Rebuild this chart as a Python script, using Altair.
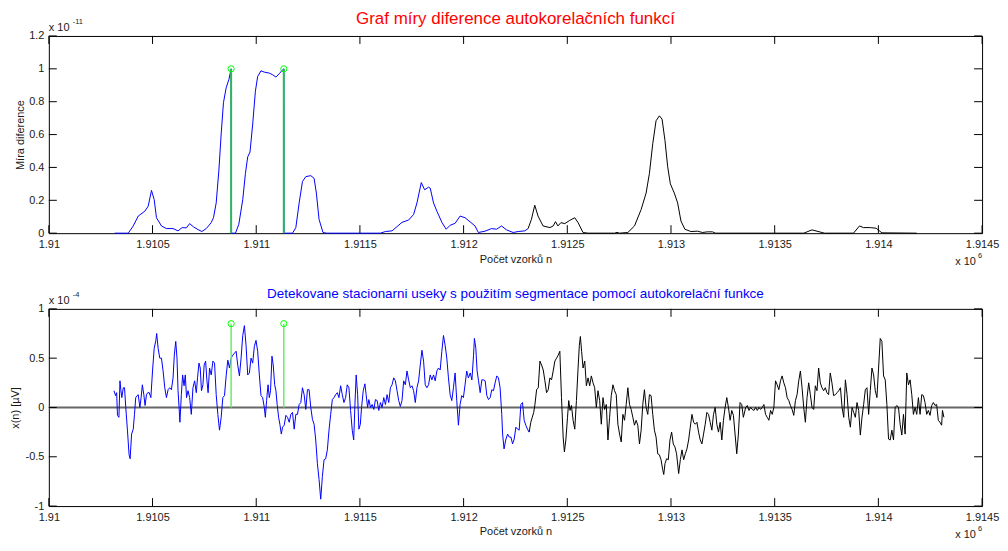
import altair as alt
import pandas as pd

FONT = "Liberation Sans"

# ---------------- data ----------------
X_TICKS = [1.91, 1.9105, 1.911, 1.9115, 1.912, 1.9125, 1.913, 1.9135, 1.914, 1.9145]
TOP_Y_TICKS = [0, 0.2, 0.4, 0.6, 0.8, 1, 1.2]
BOT_Y_TICKS = [-1, -0.5, 0, 0.5, 1]
SAMPLE_BASE = 1910000  # sample index offset; x axis is shown in units of 1e6

TOP_TITLE = "Graf míry diference autokorelačních funkcí"
BOT_TITLE = "Detekovane stacionarni useky s použitím segmentace pomocí autokorelační funkce"
X_TITLE = "Počet vzorků n"
TOP_Y_TITLE = "Míra diference"
BOT_Y_TITLE = "x(n) [µV]"
TOP_EXP = "-11"
BOT_EXP = "-4"
X_EXP = "6"

# (sample offset n, value) — top panel, detected (blue) part, in units of 1e-11
TOP_BLUE = [
    (317, 0), (383, 0), (407, 0.044), (431, 0.104), (463, 0.134), (479, 0.164),
    (495, 0.26), (508, 0.204), (519, 0.094), (543, 0.044), (567, 0.028), (599, 0.028),
    (623, 0.014), (643, 0.034), (663, 0.032), (679, 0.058), (698, 0.038), (719, 0.022),
    (738, 0.01), (759, 0.028), (783, 0.064), (794, 0.094), (807, 0.184), (820, 0.384),
    (831, 0.604), (842, 0.794), (855, 0.884), (868, 0.934), (879, 1.0), (880, 0),
    (900, 0), (916, 0.054), (935, 0.204), (948, 0.364), (959, 0.464), (970, 0.494),
    (983, 0.664), (996, 0.864), (1007, 0.954), (1023, 0.988), (1039, 0.98), (1063, 0.974),
    (1079, 0.964), (1095, 0.95), (1111, 0.97), (1127, 0.994), (1133, 1.0), (1134, 0),
    (1175, 0), (1191, 0.034), (1207, 0.184), (1223, 0.314), (1239, 0.344), (1263, 0.35),
    (1279, 0.334), (1290, 0.244), (1303, 0.084), (1322, 0.004), (1340, 0), (1599, 0),
    (1623, 0.01), (1655, 0.014), (1679, 0.04), (1703, 0.066), (1735, 0.08), (1759, 0.114),
    (1775, 0.184), (1796, 0.308), (1812, 0.264), (1831, 0.28), (1839, 0.274), (1855, 0.184),
    (1871, 0.134), (1896, 0.064), (1916, 0.024), (1935, 0.048), (1959, 0.06), (1983, 0.104),
    (2007, 0.094), (2036, 0.064), (2055, 0.044), (2071, 0.004), (2103, 0.012), (2135, 0.028),
    (2159, 0.024), (2183, 0.044), (2207, 0.02), (2239, 0.004), (2263, 0.01), (2295, 0.014),
    (2311, 0.028),
]
# top panel, remaining (black) part
TOP_BLACK = [
    (2311, 0.028), (2327, 0.084), (2343, 0.17), (2359, 0.104), (2383, 0.044), (2416, 0.034),
    (2432, 0.044), (2443, 0.07), (2455, 0.044), (2469, 0.064), (2488, 0.058), (2512, 0.078),
    (2536, 0.094), (2552, 0.064), (2576, 0.004), (2600, 0), (2728, 0), (2740, 0.005),
    (2752, 0), (2792, 0.004), (2824, 0.044), (2856, 0.144), (2880, 0.244), (2896, 0.364),
    (2912, 0.544), (2928, 0.684), (2944, 0.714), (2957, 0.694), (2971, 0.564), (2984, 0.404),
    (2997, 0.30), (3016, 0.244), (3032, 0.184), (3048, 0.074), (3067, 0.024), (3096, 0.01),
    (3128, 0.012), (3152, 0.004), (3175, 0.008), (3200, 0.008), (3215, 0), (3640, 0),
    (3680, 0.02), (3728, 0.004), (3740, 0), (3880, 0), (3909, 0.044), (3928, 0.034),
    (3961, 0.034), (3989, 0.03), (4017, 0.002), (4185, 0),
]

# bottom panel signal, detected (blue) part, in units of 1e-4
BOT_BLUE = [
    (314, 0.17), (322, 0.12), (327, 0.15), (331, -0.08), (338, -0.10), (343, 0.27), (347, 0.18),
    (352, 0.10), (359, 0.20), (365, 0.20), (371, 0.0), (379, -0.23), (387, -0.48), (392, -0.52),
    (399, -0.27), (407, -0.22), (413, -0.07), (419, 0.10), (426, 0.12), (431, 0.13), (439, 0.0),
    (445, 0.10), (451, 0.23), (458, 0.13), (464, 0.02), (471, 0.13), (477, 0.15), (484, 0.15),
    (492, 0.10), (500, 0.37), (508, 0.60), (516, 0.68), (520, 0.75), (527, 0.60), (535, 0.50),
    (543, 0.50), (551, 0.37), (559, 0.20), (567, 0.10), (575, 0.18), (583, 0.20), (591, 0.18),
    (599, 0.30), (605, 0.53), (612, 0.67), (618, 0.50), (623, 0.17), (628, 0.0), (632, -0.15),
    (639, 0.13), (645, 0.33), (652, 0.22), (658, 0.33), (664, 0.10), (671, 0.17), (679, 0.10),
    (687, -0.07), (695, 0.20), (703, 0.27), (711, 0.15), (717, 0.30), (724, 0.45), (730, 0.40),
    (736, 0.17), (743, 0.23), (749, 0.43), (756, 0.47), (762, 0.28), (768, 0.15), (775, 0.40),
    (783, 0.33), (791, 0.47), (799, 0.45), (807, 0.13), (815, -0.07), (823, -0.23), (831, -0.10),
    (839, 0.10), (847, 0.12), (855, 0.32), (863, 0.48), (871, 0.40), (879, 0.50), (887, 0.53),
    (895, 0.55), (903, 0.57), (911, 0.43), (919, 0.32), (927, 0.50), (935, 0.73), (943, 0.83),
    (951, 0.63), (959, 0.33), (967, 0.35), (975, 0.50), (983, 0.45), (991, 0.62), (999, 0.68),
    (1007, 0.57), (1015, 0.33), (1023, 0.12), (1031, 0.10), (1039, 0.0), (1044, -0.10),
    (1050, 0.07), (1057, 0.23), (1063, 0.10), (1069, 0.17), (1076, 0.52), (1082, 0.43),
    (1089, 0.23), (1095, 0.17), (1101, 0.03), (1108, -0.10), (1114, -0.17), (1121, -0.27),
    (1127, -0.20), (1135, -0.18), (1143, -0.08), (1151, -0.10), (1159, -0.15), (1167, -0.07),
    (1175, -0.05), (1183, -0.22), (1191, -0.07), (1199, -0.07), (1207, 0.03), (1215, 0.05),
    (1223, 0.20), (1231, 0.13), (1239, -0.02), (1247, 0.18), (1255, 0.18), (1263, 0.0),
    (1271, -0.12), (1279, -0.17), (1287, -0.33), (1295, -0.57), (1303, -0.73), (1311, -0.93),
    (1319, -0.70), (1327, -0.53), (1335, -0.52), (1343, -0.43), (1351, -0.23), (1359, -0.07),
    (1367, 0.08), (1375, 0.10), (1383, 0.13), (1391, 0.15), (1399, 0.10), (1407, 0.22),
    (1415, 0.13), (1423, 0.05), (1431, 0.10), (1439, 0.23), (1447, 0.20), (1455, -0.03),
    (1463, -0.23), (1470, -0.33), (1476, 0.03), (1482, 0.33), (1489, 0.13), (1495, -0.22),
    (1502, -0.17), (1508, 0.0), (1516, 0.17), (1524, 0.24), (1530, 0.13), (1537, 0.0),
    (1543, 0.08), (1551, 0.0), (1559, 0.03), (1567, -0.02), (1575, 0.08), (1583, 0.07),
    (1591, -0.03), (1599, 0.05), (1607, 0.0), (1615, 0.10), (1623, 0.03), (1631, 0.13),
    (1639, 0.05), (1647, 0.20), (1655, 0.23), (1663, 0.30), (1671, 0.27), (1679, 0.17),
    (1687, 0.07), (1695, 0.01), (1703, 0.07), (1711, 0.27), (1719, 0.23), (1727, 0.37),
    (1735, 0.28), (1743, 0.20), (1751, 0.22), (1759, 0.17), (1767, 0.05), (1775, 0.20),
    (1783, 0.27), (1791, 0.43), (1799, 0.58), (1807, 0.47), (1815, 0.23), (1823, 0.20),
    (1831, 0.23), (1839, 0.33), (1847, 0.28), (1855, 0.33), (1863, 0.27), (1871, 0.37),
    (1879, 0.40), (1887, 0.38), (1895, 0.57), (1903, 0.73), (1911, 0.63), (1919, 0.50),
    (1927, 0.30), (1935, 0.13), (1943, 0.07), (1951, 0.20), (1959, 0.35), (1967, 0.07),
    (1975, -0.18), (1983, 0.03), (1991, 0.12), (1999, 0.10), (2007, 0.23), (2015, 0.37),
    (2023, 0.30), (2032, 0.35), (2040, 0.28), (2048, 0.53), (2052, 0.70), (2059, 0.60),
    (2065, 0.37), (2072, 0.27), (2080, 0.15), (2088, 0.28), (2096, 0.28), (2104, 0.27),
    (2112, 0.12), (2120, 0.08), (2128, 0.10), (2136, 0.18), (2144, 0.17), (2152, 0.25),
    (2160, 0.32), (2168, 0.30), (2176, 0.20), (2184, -0.07), (2188, -0.27), (2195, -0.42),
    (2203, -0.33), (2212, -0.27), (2220, -0.30), (2228, -0.30), (2236, -0.37), (2244, -0.32),
    (2252, -0.20), (2260, -0.22), (2268, -0.23), (2276, 0.03), (2284, 0.05), (2292, -0.13),
    (2300, -0.18), (2308, -0.22), (2316, -0.25),
]
# bottom panel signal, remaining (black) part
BOT_BLACK = [
    (2316, -0.25), (2324, -0.15), (2331, -0.10), (2338, -0.05), (2344, 0.03), (2352, 0.18),
    (2360, 0.20), (2368, 0.47), (2376, 0.43), (2384, 0.38), (2392, 0.27), (2400, 0.15),
    (2408, 0.18), (2416, 0.30), (2424, 0.28), (2432, 0.37), (2440, 0.47), (2448, 0.50),
    (2456, 0.53), (2464, 0.57), (2472, 0.10), (2480, -0.30), (2486, -0.45), (2493, -0.33),
    (2501, -0.10), (2507, 0.07), (2513, -0.03), (2520, 0.02), (2528, -0.13), (2536, -0.22),
    (2544, 0.07), (2552, 0.40), (2558, 0.63), (2563, 0.72), (2569, 0.57), (2576, 0.40),
    (2584, 0.47), (2592, 0.22), (2600, 0.30), (2608, 0.22), (2616, 0.32), (2624, 0.25),
    (2632, 0.20), (2640, 0.0), (2648, 0.17), (2656, 0.07), (2664, -0.17), (2672, 0.10),
    (2680, -0.02), (2688, 0.03), (2696, -0.33), (2704, -0.10), (2712, 0.12), (2720, 0.23),
    (2728, 0.17), (2736, 0.13), (2744, -0.17), (2752, -0.27), (2760, -0.35), (2768, -0.07),
    (2776, -0.13), (2784, 0.03), (2792, 0.20), (2800, 0.03), (2808, -0.02), (2816, -0.10),
    (2824, -0.18), (2832, -0.13), (2840, -0.18), (2848, -0.37), (2856, -0.23), (2864, 0.03),
    (2872, 0.18), (2880, 0.0), (2888, -0.07), (2896, 0.13), (2904, 0.12), (2912, -0.07),
    (2920, -0.23), (2928, -0.30), (2936, -0.47), (2944, -0.48), (2952, -0.53), (2960, -0.63),
    (2965, -0.68), (2971, -0.57), (2979, -0.52), (2987, -0.53), (2995, -0.33), (3003, -0.25),
    (3011, -0.37), (3019, -0.40), (3027, -0.47), (3037, -0.67), (3045, -0.53), (3053, -0.43),
    (3061, -0.53), (3069, -0.47), (3077, -0.42), (3085, -0.33), (3093, -0.20), (3101, -0.07),
    (3109, -0.15), (3117, -0.17), (3125, -0.15), (3133, -0.25), (3141, -0.33), (3149, -0.37),
    (3157, -0.27), (3165, -0.17), (3173, -0.05), (3181, -0.07), (3189, -0.15), (3197, -0.23),
    (3205, -0.07), (3213, 0.0), (3221, -0.17), (3229, -0.25), (3237, -0.15), (3245, -0.33),
    (3253, -0.13), (3261, 0.0), (3269, 0.10), (3277, 0.0), (3285, -0.13), (3293, -0.03),
    (3301, -0.08), (3309, -0.27), (3317, -0.47), (3325, -0.27), (3333, 0.05), (3341, 0.03),
    (3349, -0.10), (3360, 0.0), (3368, 0.02), (3376, -0.03), (3384, 0.0), (3392, -0.02),
    (3400, -0.03), (3408, 0.0), (3416, -0.03), (3424, 0.0), (3432, -0.02), (3440, 0.0),
    (3448, 0.03), (3456, -0.07), (3464, -0.10), (3472, -0.13), (3480, -0.03), (3488, -0.07),
    (3496, 0.0), (3504, 0.27), (3512, 0.23), (3520, 0.18), (3528, 0.27), (3536, 0.32),
    (3544, 0.25), (3552, 0.20), (3560, 0.10), (3568, 0.07), (3576, 0.02), (3584, -0.02),
    (3592, -0.08), (3600, 0.07), (3608, 0.13), (3616, 0.27), (3624, 0.37), (3632, 0.20),
    (3640, 0.0), (3648, -0.15), (3656, 0.10), (3664, 0.25), (3672, 0.13), (3680, 0.0),
    (3688, -0.02), (3696, 0.22), (3704, 0.17), (3712, 0.40), (3720, 0.25), (3728, 0.20),
    (3736, 0.17), (3744, 0.20), (3752, 0.15), (3760, 0.13), (3768, 0.35), (3776, 0.25),
    (3784, 0.12), (3793, 0.13), (3801, 0.15), (3809, 0.17), (3817, 0.20), (3825, 0.0),
    (3833, -0.10), (3841, 0.28), (3849, 0.13), (3857, -0.10), (3865, -0.20), (3873, 0.0),
    (3881, -0.05), (3889, -0.10), (3897, 0.05), (3905, -0.03), (3913, -0.28), (3921, -0.10),
    (3929, 0.03), (3937, 0.18), (3945, 0.20), (3953, -0.07), (3961, 0.17), (3969, 0.40),
    (3977, 0.33), (3985, 0.17), (3993, 0.10), (4001, 0.40), (4009, 0.70), (4017, 0.67),
    (4025, 0.32), (4033, 0.28), (4041, 0.03), (4049, -0.32), (4057, -0.33), (4065, -0.23),
    (4073, -0.33), (4081, 0.0), (4089, 0.02), (4097, 0.0), (4105, -0.17), (4113, -0.28),
    (4121, -0.07), (4129, -0.27), (4137, 0.35), (4145, 0.23), (4153, 0.28), (4161, 0.13),
    (4169, -0.07), (4177, 0.0), (4185, -0.07), (4193, 0.10), (4201, -0.07), (4209, 0.13),
    (4217, 0.12), (4225, 0.05), (4233, -0.07), (4241, -0.03), (4249, -0.08), (4257, 0.02),
    (4265, 0.05), (4273, 0.02), (4281, 0.03), (4289, -0.13), (4297, -0.15), (4305, -0.18),
    (4309, -0.03), (4316, -0.10),
]

SEGMENT_N = [879, 1133]       # detected segment boundaries (sample offsets)
TOP_MARK_LEVEL = 1.0
BOT_MARK_LEVEL = 0.85

# ---------------- helpers ----------------
W, H, TL = 937, 198, 8
TXT = "#1a1a1a"
XS = alt.Scale(domain=[1.91, 1.9145], nice=False, zero=False)


def signal_df(blue, black):
    rows = []
    for seg, pts in (("detected", blue), ("rest", black)):
        for n, v in pts:
            rows.append({"x": (SAMPLE_BASE + n) / 1e6, "y": v, "seg": seg})
    return pd.DataFrame(rows)


def panel(df, ydom, yticks, ytitle, ytitle_pad, exp, title, tcolor, tsize, level,
          stem_color, stem_w, zero_line):
    ys = alt.Scale(domain=ydom, nice=False, zero=False)
    xaxis = alt.Axis(values=X_TICKS, labelExpr="'' + datum.value", title=X_TITLE,
                     ticks=False, domain=False, grid=False, labelPadding=5,
                     titlePadding=4, labelFontSize=11, titleFontSize=11,
                     titleFontWeight="normal", labelFont=FONT, titleFont=FONT,
                     labelColor=TXT, titleColor=TXT, labelFlush=False,
                     labelOverlap=False)
    yaxis = alt.Axis(values=yticks, labelExpr="'' + datum.value", title=ytitle,
                     ticks=False, domain=False, grid=False, labelPadding=5,
                     titlePadding=ytitle_pad, labelFontSize=11, titleFontSize=11,
                     titleFontWeight="normal", labelFont=FONT, titleFont=FONT,
                     labelColor=TXT, titleColor=TXT, labelFlush=False,
                     labelOverlap=False)

    def X(field):
        return alt.X(field, type="quantitative", scale=XS, axis=xaxis)

    def Y(field):
        return alt.Y(field, type="quantitative", scale=ys, axis=yaxis)

    layers = []
    if zero_line:
        layers.append(
            alt.Chart(pd.DataFrame({"z": [0]})).mark_rule(color="#666666", strokeWidth=2)
            .encode(y=Y("z"))
        )
    layers.append(
        alt.Chart(df).mark_line(strokeWidth=1, interpolate="linear").encode(
            x=X("x"), y=Y("y"),
            color=alt.Color("seg:N", scale=alt.Scale(domain=["detected", "rest"],
                                                      range=["#0000ff", "#000000"]),
                            legend=None),
        )
    )
    st = pd.DataFrame({"x": [(SAMPLE_BASE + n) / 1e6 for n in SEGMENT_N],
                       "base": [0] * len(SEGMENT_N),
                       "top": [level] * len(SEGMENT_N)})
    layers.append(
        alt.Chart(st).mark_rule(color=stem_color, strokeWidth=stem_w).encode(
            x=X("x"), y=Y("base"), y2="top:Q")
    )
    layers.append(
        alt.Chart(st).mark_point(shape="circle", filled=False, size=38,
                                 color="#00ff00", strokeWidth=1, opacity=1).encode(
            x=X("x"), y=Y("top"))
    )
    xt = pd.DataFrame({"t": X_TICKS})
    yt = pd.DataFrame({"t": yticks})
    for y0, y1 in ((0, TL), (H, H - TL)):
        layers.append(
            alt.Chart(xt).mark_rule(color="black", strokeWidth=1).encode(
                x=X("t"), y=alt.value(y0), y2=alt.value(y1))
        )
    for x0, x1 in ((0, TL), (W, W - TL)):
        layers.append(
            alt.Chart(yt).mark_rule(color="black", strokeWidth=1).encode(
                y=Y("t"), x=alt.value(x0), x2=alt.value(x1))
        )

    # exponent annotations (MATLAB style "x 10^k")
    def label(text, x, y, size):
        return alt.Chart(pd.DataFrame({"t": [text]})).mark_text(
            align="left", baseline="alphabetic", font=FONT, fontSize=size, color=TXT
        ).encode(x=alt.value(x), y=alt.value(y), text="t:N")
    layers.append(label("x 10", 0, -5, 11))
    layers.append(label(exp, 24, -12, 7.5))
    layers.append(label("x 10", 910, H + 32, 11))
    layers.append(label(X_EXP, 933, H + 25, 7.5))

    return alt.layer(*layers).properties(
        width=W, height=H,
        title=alt.TitleParams(title, color=tcolor, fontSize=tsize, font=FONT,
                              fontWeight="normal", anchor="middle", frame="group",
                              offset=-10),
    )


top = panel(signal_df(TOP_BLUE, TOP_BLACK), [0, 1.2], TOP_Y_TICKS, TOP_Y_TITLE, 3,
            TOP_EXP, TOP_TITLE, "#ff0000", 17, TOP_MARK_LEVEL, "#2fb55a", 2, False)
bot = panel(signal_df(BOT_BLUE, BOT_BLACK), [-1, 1], BOT_Y_TICKS, BOT_Y_TITLE, 5,
            BOT_EXP, BOT_TITLE, "#0000ff", 13.5, BOT_MARK_LEVEL, "#66ee66", 1.5, True)

chart = (
    alt.vconcat(top, bot, spacing=76, bounds="flush")
    .properties(padding={"left": 0, "top": 0, "right": 0, "bottom": 0})
    .configure_view(stroke="black", strokeWidth=1)
)

chart.save("out.html", embed_options={"renderer": "svg", "actions": False})
